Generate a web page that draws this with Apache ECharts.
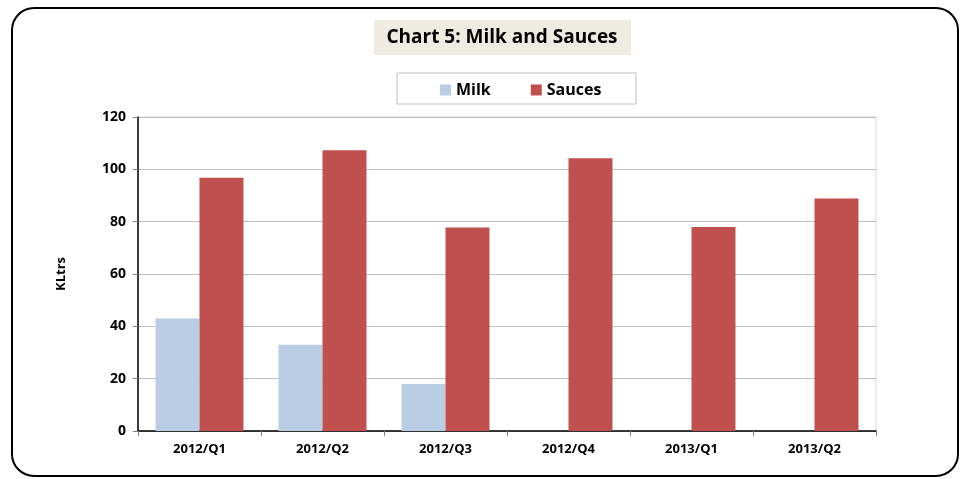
<!DOCTYPE html>
<html>
<head>
<meta charset="utf-8">
<script src="https://cdn.jsdelivr.net/npm/echarts@6/dist/echarts.min.js"></script>
<style>
html,body{margin:0;padding:0;background:#fff;}
#c{width:963px;height:479px;}
</style>
</head>
<body>
<div id="c"></div>
<script>
var categories = ['2012/Q1','2012/Q2','2012/Q3','2012/Q4','2013/Q1','2013/Q2'];
var milk = [43, 33, 18, null, null, null];
var sauces = [96.8, 107.3, 77.8, 104.2, 78, 88.9];
var yTicks = {min: 0, max: 120, interval: 20};

var font = '"Open Sans", "Liberation Sans", sans-serif';
var chart = echarts.init(document.getElementById('c'));
chart.setOption({
  animation: false,
  backgroundColor: '#fff',
  textStyle: {fontFamily: font},
  graphic: [
    {type: 'rect', shape: {x: 12, y: 8, width: 946, height: 468, r: 22},
     style: {fill: 'none', stroke: '#000', lineWidth: 2}, z: 0},
    {type: 'rect', shape: {x: 374, y: 20, width: 257, height: 35},
     style: {fill: '#EEECE1'}, z: 1},
    {type: 'text', x: 502, y: 38,
     style: {text: 'Chart 5: Milk and Sauces', fill: '#000', font: 'bold 19px ' + font,
             textAlign: 'center', textVerticalAlign: 'middle'}, z: 2},
    {type: 'rect', shape: {x: 397, y: 73, width: 239, height: 31},
     style: {fill: '#fff', stroke: '#bfbfbf', lineWidth: 1}, z: 1}
  ],
  legend: {
    left: 435, top: 77, itemWidth: 11, itemHeight: 11, itemGap: 40,
    icon: 'rect', z: 5,
    textStyle: {fontSize: 16, fontWeight: 'bold', color: '#000', fontFamily: font},
    data: ['Milk', 'Sauces']
  },
  grid: {left: 138, right: 87, top: 117, bottom: 48, show: true,
         borderColor: '#d9d9d9', borderWidth: 1, backgroundColor: 'transparent'},
  xAxis: {
    type: 'category', data: categories,
    axisLine: {lineStyle: {color: '#000', width: 1.5}},
    axisTick: {show: true, length: 5, lineStyle: {color: '#808080'}},
    axisLabel: {fontSize: 13, fontWeight: 'bold', color: '#000', margin: 12, fontFamily: font}
  },
  yAxis: {
    type: 'value', min: yTicks.min, max: yTicks.max, interval: yTicks.interval,
    name: 'KLtrs', nameLocation: 'middle', nameGap: 70, nameRotate: 90,
    nameTextStyle: {fontSize: 13, fontWeight: 'bold', color: '#000', fontFamily: font},
    axisLine: {show: true, lineStyle: {color: '#000', width: 1.5}},
    axisTick: {show: true, length: 5, lineStyle: {color: '#808080'}},
    splitLine: {lineStyle: {color: '#bfbfbf', width: 1}},
    axisLabel: {fontSize: 14, fontWeight: 'bold', color: '#000', margin: 12, fontFamily: font}
  },
  series: [
    {name: 'Milk', type: 'bar', data: milk, barGap: '0%', barCategoryGap: '28.5%',
     itemStyle: {color: '#B9CDE5'}},
    {name: 'Sauces', type: 'bar', data: sauces, barGap: '0%', barCategoryGap: '28.5%',
     itemStyle: {color: '#C0504D'}}
  ]
});
</script>
</body>
</html>
